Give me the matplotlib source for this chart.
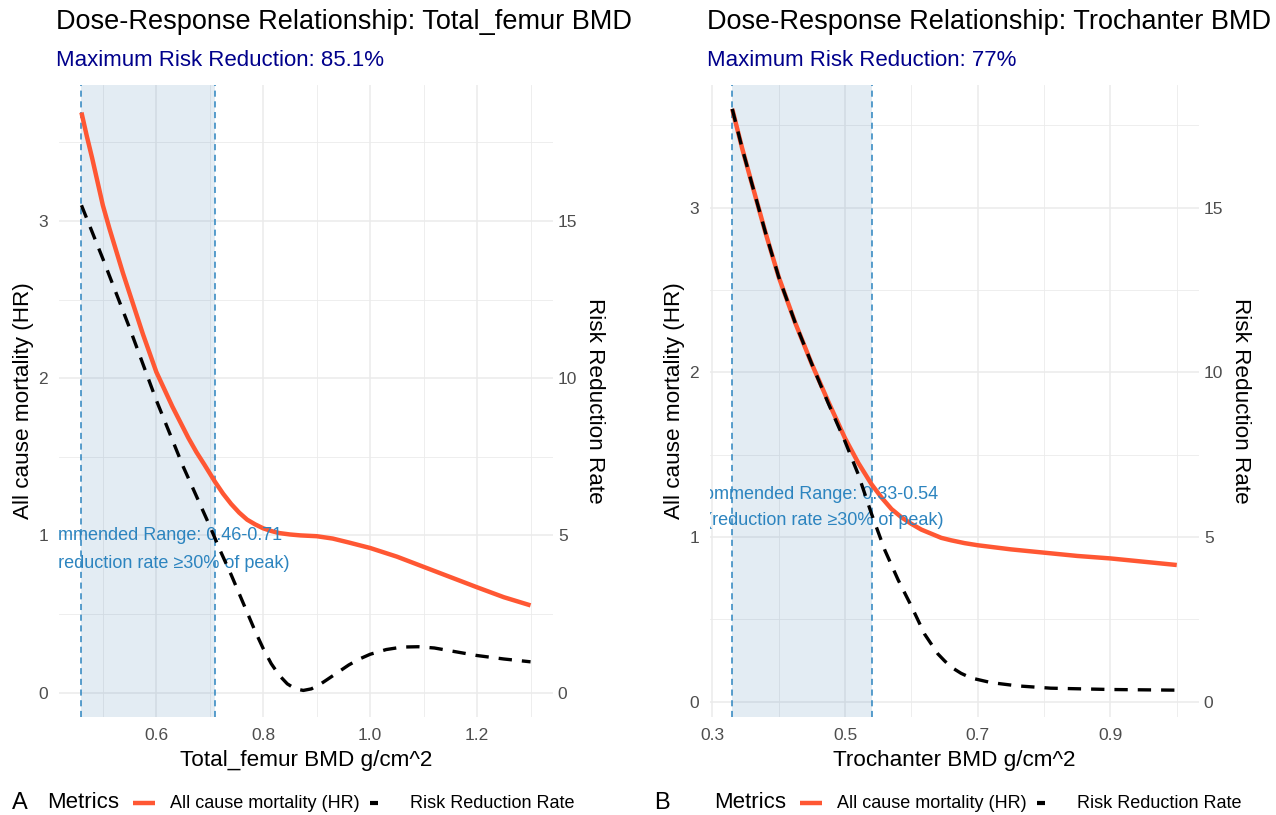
import matplotlib.pyplot as plt
from matplotlib.lines import Line2D

plt.rcParams['font.family'] = ['Liberation Sans', 'DejaVu Sans']

# panel A: total femur
femur_x = [0.46, 0.47, 0.48, 0.49, 0.50, 0.5125, 0.525, 0.5375, 0.55, 0.5625, 0.575, 0.5875,
           0.60, 0.615, 0.63, 0.645, 0.66, 0.675, 0.69, 0.70, 0.71, 0.725, 0.74, 0.755, 0.77,
           0.785, 0.80, 0.815, 0.83, 0.85, 0.87, 0.90, 0.93, 0.96, 1.00, 1.05, 1.10, 1.15,
           1.20, 1.25, 1.30]
femur_hr = [3.69, 3.54, 3.40, 3.25, 3.10, 2.95, 2.81, 2.67, 2.54, 2.41, 2.28, 2.16,
            2.04, 1.93, 1.82, 1.72, 1.62, 1.53, 1.45, 1.395, 1.34, 1.265, 1.20, 1.145, 1.10,
            1.07, 1.045, 1.028, 1.015, 1.006, 1.00, 0.995, 0.98, 0.955, 0.92, 0.865, 0.80, 0.735,
            0.67, 0.607, 0.555]
femur_rrr_x = [0.46, 0.48, 0.50, 0.525, 0.55, 0.575, 0.60, 0.625, 0.65, 0.675, 0.70, 0.72,
               0.74, 0.755, 0.77, 0.785, 0.80, 0.815, 0.83, 0.845, 0.86, 0.875, 0.89, 0.905,
               0.92, 0.94, 0.96, 0.98, 1.00, 1.03, 1.06, 1.09, 1.12, 1.16, 1.20, 1.25, 1.30]
femur_rrr = [15.5, 14.65, 13.8, 12.7, 11.6, 10.45, 9.3, 8.25, 7.2, 6.25, 5.3, 4.5,
             3.75, 3.15, 2.55, 1.95, 1.4, 0.92, 0.55, 0.28, 0.12, 0.07, 0.12, 0.25,
             0.42, 0.65, 0.88, 1.07, 1.22, 1.37, 1.45, 1.46, 1.42, 1.30, 1.18, 1.07, 0.98]
femur_range = (0.46, 0.71)

# panel B: trochanter
troch_x = [0.33, 0.345, 0.36, 0.38, 0.40, 0.425, 0.45, 0.475, 0.50, 0.52, 0.54, 0.555, 0.57,
           0.585, 0.60, 0.615, 0.63, 0.645, 0.66, 0.68, 0.70, 0.75, 0.80, 0.85, 0.90, 0.95, 1.00]
troch_hr = [3.60, 3.36, 3.14, 2.85, 2.58, 2.30, 2.05, 1.82, 1.60, 1.45, 1.32, 1.24, 1.17,
            1.12, 1.08, 1.045, 1.02, 0.995, 0.98, 0.963, 0.95, 0.925, 0.905, 0.885, 0.87, 0.85,
            0.83]
troch_rrr_x = [0.33, 0.345, 0.36, 0.38, 0.40, 0.425, 0.45, 0.475, 0.50, 0.52, 0.54, 0.56, 0.58,
               0.60, 0.62, 0.64, 0.65, 0.66, 0.675, 0.69, 0.72, 0.76, 0.81, 0.90, 1.00]
troch_rrr = [18.0, 16.8, 15.7, 14.25, 12.9, 11.5, 10.25, 9.05, 7.9, 6.9, 5.7, 4.6, 3.7,
             2.9, 2.05, 1.45, 1.24, 1.05, 0.86, 0.72, 0.58, 0.48, 0.41, 0.37, 0.35]
troch_range = (0.33, 0.54)

RED = '#FF5733'
BLUE = '#2C84BF'
GRID = '#EBEBEB'
SCALE = 5  # RRR = HR axis * 5
W, H = 1276, 815

fig = plt.figure(figsize=(W / 100, H / 100), dpi=100)


def legend_row(x0, letter_x, letter):
    y = 1 - 803 / H
    fig.text(letter_x / W, y, letter, fontsize=17, va='center', ha='left')
    fig.text((x0 + 47) / W, y, 'Metrics', fontsize=16, va='center', ha='left')
    fig.add_artist(Line2D([(x0 + 133) / W, (x0 + 155) / W], [y, y], color=RED, lw=3.2,
                          solid_capstyle='butt', transform=fig.transFigure))
    fig.text((x0 + 170) / W, y, 'All cause mortality (HR)', fontsize=13, va='center', ha='left')
    # dashed key: only the first dash fits in the key
    fig.add_artist(Line2D([(x0 + 370) / W, (x0 + 378) / W], [y, y], color='black', lw=3,
                          solid_capstyle='butt', transform=fig.transFigure))
    fig.text((x0 + 410) / W, y, 'Risk Reduction Rate', fontsize=13, va='center', ha='left')


def panel(rect, x, hr, rx, rrr, rng, xlim, ylim, xticks, xminor, title, subtitle, xlabel,
          note1_pos, note2_pos):
    ax = fig.add_axes(rect)
    ax.set_xlim(xlim)
    ax.set_ylim(ylim)
    ax.set_xticks(xticks)
    ax.set_xticklabels(['%.1f' % t for t in xticks])
    ax.set_xticks(xminor, minor=True)
    ax.set_yticks([0, 1, 2, 3])
    ax.set_yticks([0.5, 1.5, 2.5, 3.5], minor=True)
    ax.grid(True, which='major', color=GRID, lw=1.1, zorder=0)
    ax.grid(True, which='minor', color=GRID, lw=0.6, zorder=0)
    ax.set_axisbelow(True)
    for s in ax.spines.values():
        s.set_visible(False)
    ax.tick_params(which='both', length=0, labelsize=12.5, labelcolor='#4D4D4D', pad=8)

    ax.axvspan(rng[0], rng[1], color='#4682B4', alpha=0.15, lw=0, zorder=1)
    for v in rng:
        ax.axvline(v, color=BLUE, lw=1.1, dashes=(4, 3), zorder=2)
    ax.plot(x, hr, color=RED, lw=3.2, solid_capstyle='butt', solid_joinstyle='round', zorder=3)

    ax.text(note1_pos[0], note1_pos[1], 'Recommended Range: %.2f-%.2f' % rng,
            ha='right', va='center', color=BLUE, fontsize=13, clip_on=True, zorder=4)
    ax.text(note2_pos[0], note2_pos[1], '(reduction rate \u226530% of peak)',
            ha='right', va='center', color=BLUE, fontsize=13, clip_on=True, zorder=4)

    ax.set_xlabel(xlabel, fontsize=16.2, labelpad=5)
    ax.set_ylabel('All cause mortality (HR)', fontsize=16.2, labelpad=3)

    ax2 = ax.twinx()
    ax2.set_ylim(ylim[0] * SCALE, ylim[1] * SCALE)
    ax2.set_yticks([0, 5, 10, 15])
    for s in ax2.spines.values():
        s.set_visible(False)
    ax2.tick_params(length=0, labelsize=12.5, labelcolor='#4D4D4D', pad=3.5)
    ax2.plot(rx, rrr, color='black', lw=2.4, dashes=(4, 3), zorder=3)
    ax2.set_ylabel('Risk Reduction Rate', fontsize=16.2, rotation=270, labelpad=20)

    left = rect[0]
    fig.text(left - 0.002, 1 - 22 / H, title, fontsize=19.5, va='center', ha='left')
    fig.text(left - 0.002, 1 - 60 / H, subtitle, fontsize=16, color='#00008B',
             va='center', ha='left')
    return ax


panel([59 / W, 1 - 717 / H, 494 / W, 632 / H],
      femur_x, femur_hr, femur_rrr_x, femur_rrr, femur_range,
      (0.418, 1.342), (-0.155, 3.865), [0.6, 0.8, 1.0, 1.2], [0.5, 0.7, 0.9, 1.1, 1.3],
      'Dose-Response Relationship: Total_femur BMD', 'Maximum Risk Reduction: 85.1%',
      'Total_femur BMD g/cm^2', (0.8355, 1.0), (0.8486, 0.82))
legend_row(0, 12, 'A')

panel([710 / W, 1 - 717 / H, 489 / W, 632 / H],
      troch_x, troch_hr, troch_rrr_x, troch_rrr, troch_range,
      (0.2965, 1.0335), (-0.093, 3.745), [0.3, 0.5, 0.7, 0.9], [0.4, 0.6, 0.8, 1.0],
      'Dose-Response Relationship: Trochanter BMD', 'Maximum Risk Reduction: 77%',
      'Trochanter BMD g/cm^2', (0.640, 1.26), (0.649, 1.10))
legend_row(667, 654, 'B')

fig.savefig('out.png', dpi=100)
